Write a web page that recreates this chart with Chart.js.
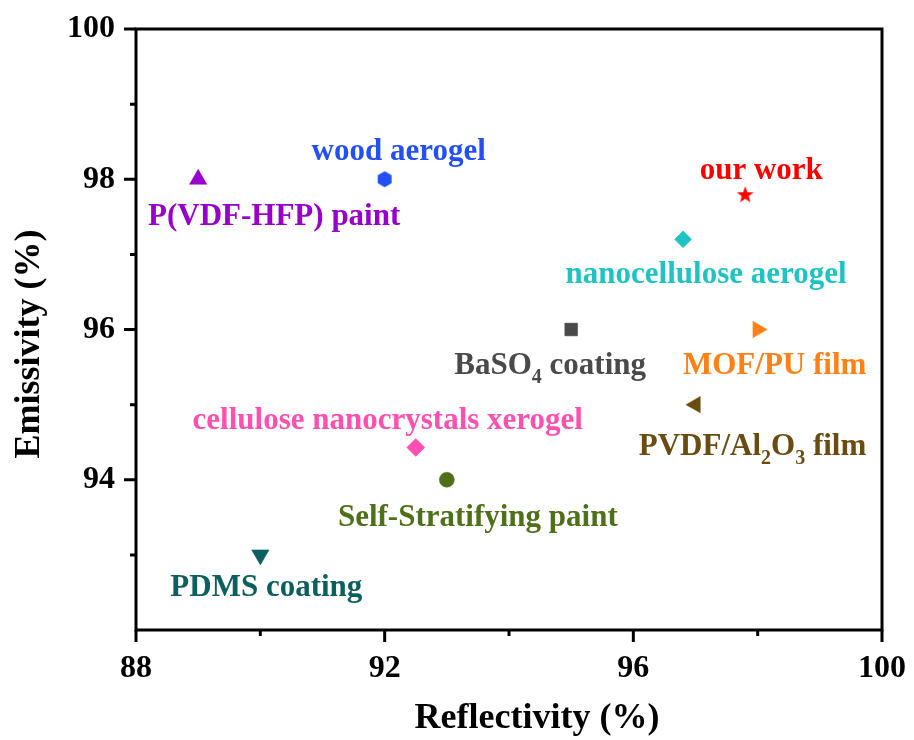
<!DOCTYPE html>
<html>
<head>
<meta charset="utf-8">
<script src="https://cdn.jsdelivr.net/npm/chart.js@4.4.0/dist/chart.umd.min.js"></script>
<style>
  body { margin: 0; background: #fff; }
  #wrap { width: 914px; height: 740px; }
</style>
</head>
<body>
<div id="wrap"><canvas id="chart" width="914" height="740"></canvas></div>
<script>
// data
const materials = ['P(VDF-HFP) paint', 'wood aerogel', 'our work', 'nanocellulose aerogel', 'BaSO_4 coating',
                   'MOF/PU film', 'PVDF/Al_2O_3 film', 'cellulose nanocrystals xerogel', 'Self-Stratifying paint', 'PDMS coating'];
const reflectivity = [89, 92, 97.8, 96.8, 95, 98, 97, 92.5, 93, 90];
const emissivity = [98, 98, 97.8, 97.2, 96, 96, 95, 94.43, 94, 93];
const xMajorTicks = [88, 92, 96, 100];
const xMinorTicks = [90, 94, 98];
const yMajorTicks = [94, 96, 98, 100];
const yMinorTicks = [93, 95, 97, 99];

// styling
const colors = ['#9900cc', '#2250f5', '#ff0000', '#1ec4c4', '#4a4a4a', '#ff8015', '#6b4c10', '#ff4fb0', '#4f7018', '#0d5e5e'];
const FONT = '"Liberation Serif", "Times New Roman", serif';

function makeHexagon(color) {
    const c = document.createElement('canvas');
    c.width = 18; c.height = 18;
    const g = c.getContext('2d');
    g.fillStyle = color;
    g.beginPath();
    for (let k = 0; k < 6; k++) {
        const a = -Math.PI / 2 + k * Math.PI / 3;
        g.lineTo(9 + 8 * Math.cos(a), 9 + 8 * Math.sin(a));
    }
    g.closePath();
    g.fill();
    return c;
}

function makeStar(color) {
    const c = document.createElement('canvas');
    c.width = 20; c.height = 20;
    const g = c.getContext('2d');
    g.fillStyle = color;
    g.beginPath();
    for (let k = 0; k < 10; k++) {
        const a = -Math.PI / 2 + k * Math.PI / 5;
        const r = k % 2 ? 3.6 : 8.8;
        g.lineTo(10 + r * Math.cos(a), 10.8 + r * Math.sin(a));
    }
    g.closePath();
    g.fill();
    return c;
}

const markerStyles = ['triangle', makeHexagon(colors[1]), makeStar(colors[2]), 'rectRot', 'rect',
                      'triangle', 'triangle', 'rectRot', 'circle', 'triangle'];
const markerRotation = [0, 0, 0, 0, 0, 90, -90, 0, 0, 180];
const markerRadius = [10, 8, 8, 8.5, 9, 9.5, 9.5, 9, 7.5, 10];
// label centre offsets from the marker, pixels
const labelOffsets = [[76, 36], [14, -29], [16, -26], [23, 33], [-21, 34],
                      [17, 34], [57, 40], [-28, -29], [31, 36], [6, 31]];

function drawRich(ctx, text, x, y, size) {
    const parts = [];
    text.split(/(_\d)/).forEach(p => {
        if (!p) return;
        if (p[0] === '_') parts.push({ t: p.slice(1), sub: true });
        else parts.push({ t: p, sub: false });
    });
    const big = `bold ${size}px ${FONT}`;
    const small = `bold ${Math.round(size * 0.64)}px ${FONT}`;
    let total = 0;
    parts.forEach(p => {
        ctx.font = p.sub ? small : big;
        p.w = ctx.measureText(p.t).width;
        total += p.w;
    });
    const base = y + size * 0.33;
    let cx = x - total / 2;
    ctx.textAlign = 'left';
    ctx.textBaseline = 'alphabetic';
    parts.forEach(p => {
        ctx.font = p.sub ? small : big;
        ctx.fillText(p.t, cx, p.sub ? base + size * 0.29 : base);
        cx += p.w;
    });
}

const annotations = {
    id: 'annotations',
    afterDatasetsDraw(chart) {
        const ctx = chart.ctx;
        ctx.save();
        materials.forEach((m, i) => {
            const pt = chart.getDatasetMeta(i).data[0];
            ctx.fillStyle = colors[i];
            drawRich(ctx, m, pt.x + labelOffsets[i][0], pt.y + labelOffsets[i][1], 31);
        });
        ctx.restore();
    }
};

const frame = {
    id: 'frame',
    afterDraw(chart) {
        const { ctx, chartArea: a, scales: { x, y } } = chart;
        ctx.save();
        ctx.strokeStyle = '#000';
        ctx.lineWidth = 3;
        ctx.lineCap = 'square';
        ctx.strokeRect(a.left, a.top, a.right - a.left, a.bottom - a.top);
        ctx.lineCap = 'butt';
        ctx.beginPath();
        xMajorTicks.forEach(v => { const px = x.getPixelForValue(v); ctx.moveTo(px, a.bottom); ctx.lineTo(px, a.bottom + 12); });
        xMinorTicks.forEach(v => { const px = x.getPixelForValue(v); ctx.moveTo(px, a.bottom); ctx.lineTo(px, a.bottom + 6); });
        yMajorTicks.forEach(v => { const py = y.getPixelForValue(v); ctx.moveTo(a.left, py); ctx.lineTo(a.left - 12, py); });
        yMinorTicks.forEach(v => { const py = y.getPixelForValue(v); ctx.moveTo(a.left, py); ctx.lineTo(a.left - 6, py); });
        ctx.stroke();

        // axis titles
        ctx.fillStyle = '#000';
        ctx.font = `bold 36px ${FONT}`;
        ctx.textAlign = 'center';
        ctx.textBaseline = 'middle';
        ctx.fillText('Reflectivity (%)', 537, 719);
        ctx.translate(30, 344);
        ctx.rotate(-Math.PI / 2);
        ctx.fillText('Emissivity (%)', 0, 0);
        ctx.restore();
    }
};

const datasets = materials.map((m, i) => ({
    label: m,
    data: [{ x: reflectivity[i], y: emissivity[i] }],
    pointStyle: markerStyles[i],
    pointRotation: markerRotation[i],
    pointRadius: markerRadius[i],
    pointBackgroundColor: colors[i],
    pointBorderColor: colors[i],
    pointBorderWidth: 0.5
}));

new Chart(document.getElementById('chart'), {
    type: 'scatter',
    data: { datasets },
    options: {
        responsive: false,
        animation: false,
        events: [],
        layout: { padding: { top: 29, right: 32, left: 0, bottom: 0 } },
        plugins: { legend: { display: false }, tooltip: { enabled: false } },
        scales: {
            x: {
                min: 88, max: 100,
                afterFit(scale) { scale.height = 110; },
                border: { display: false },
                grid: { display: false, drawTicks: true, tickLength: 12 },
                ticks: {
                    stepSize: 2,
                    padding: 8,
                    color: '#000',
                    font: { family: FONT, size: 32, weight: 'bold' },
                    maxRotation: 0,
                    callback: v => xMajorTicks.includes(v) ? String(v) : ''
                }
            },
            y: {
                min: 92, max: 100,
                afterFit(scale) { scale.width = 136; },
                border: { display: false },
                grid: { display: false, drawTicks: true, tickLength: 12 },
                ticks: {
                    stepSize: 1,
                    padding: 9,
                    color: '#000',
                    font: { family: FONT, size: 32, weight: 'bold' },
                    callback: v => yMajorTicks.includes(v) ? String(v) : ''
                }
            }
        }
    },
    plugins: [annotations, frame]
});
</script>
</body>
</html>
